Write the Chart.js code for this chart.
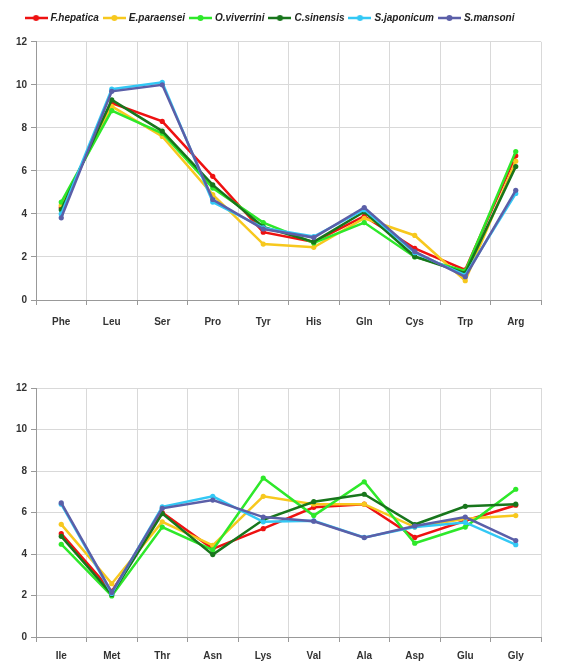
<!DOCTYPE html>
<html>
<head>
<meta charset="utf-8">
<script src="https://cdn.jsdelivr.net/npm/chart.js@4/dist/chart.umd.min.js"></script>
<style>
  body { margin: 0; background: #fff; }
  .box { position: absolute; left: 0; width: 563px; }
  #top { top: 0; height: 340px; }
  #bottom { top: 340px; height: 322px; }
</style>
</head>
<body>
<div class="box" id="top"><canvas id="chart1"></canvas></div>
<div class="box" id="bottom"><canvas id="chart2"></canvas></div>
<script>
// series names and colours
const names = ['F.hepatica', 'E.paraensei', 'O.viverrini', 'C.sinensis', 'S.japonicum', 'S.mansoni'];
const colors = ['#ee1111', '#f7c81e', '#2ee82a', '#18761c', '#33c8f5', '#5b5fa8'];

// top panel
const aa1 = ['Phe', 'Leu', 'Ser', 'Pro', 'Tyr', 'His', 'Gln', 'Cys', 'Trp', 'Arg'];
const fhep1 = [4.3, 9.15, 8.3, 5.75, 3.15, 2.7, 3.9, 2.4, 1.4, 6.7];
const epar1 = [4.4, 9.0, 7.6, 4.9, 2.6, 2.45, 3.8, 3.0, 0.9, 6.45];
const oviv1 = [4.55, 8.8, 7.75, 5.2, 3.6, 2.65, 3.6, 2.0, 1.35, 6.9];
const csin1 = [4.2, 9.3, 7.85, 5.35, 3.4, 2.7, 4.1, 2.02, 1.25, 6.2];
const sjap1 = [4.0, 9.8, 10.12, 4.55, 3.35, 2.95, 4.2, 2.2, 1.15, 4.95];
const sman1 = [3.82, 9.7, 10.0, 4.67, 3.3, 2.9, 4.3, 2.25, 1.08, 5.1];

// bottom panel
const aa2 = ['Ile', 'Met', 'Thr', 'Asn', 'Lys', 'Val', 'Ala', 'Asp', 'Glu', 'Gly'];
const fhep2 = [4.98, 2.2, 6.0, 4.25, 5.22, 6.25, 6.4, 4.8, 5.6, 6.35];
const epar2 = [5.43, 2.57, 5.55, 4.42, 6.78, 6.4, 6.4, 5.3, 5.7, 5.85];
const oviv2 = [4.47, 1.98, 5.3, 4.2, 7.66, 5.85, 7.48, 4.52, 5.3, 7.12];
const csin2 = [4.85, 2.05, 5.95, 3.97, 5.65, 6.52, 6.88, 5.42, 6.3, 6.4];
const sjap2 = [6.4, 2.1, 6.27, 6.78, 5.55, 5.6, 4.8, 5.3, 5.52, 4.45];
const sman2 = [6.46, 2.15, 6.2, 6.6, 5.78, 5.58, 4.79, 5.35, 5.78, 4.65];

const yTicks = [0, 2, 4, 6, 8, 10, 12];

const font = { family: '"Liberation Sans", Arial, sans-serif', size: 10, weight: 'bold' };

// small line+dot marker for the legend
function legendMarker(color) {
  const c = document.createElement('canvas');
  c.width = 23; c.height = 8;
  const g = c.getContext('2d');
  g.strokeStyle = color;
  g.lineWidth = 2.5;
  g.beginPath(); g.moveTo(0, 4); g.lineTo(23, 4); g.stroke();
  g.fillStyle = color;
  g.beginPath(); g.arc(11.5, 4, 3, 0, Math.PI * 2); g.fill();
  return c;
}

function makeDatasets(series) {
  return series.map((vals, i) => ({
    label: names[i],
    data: vals,
    borderColor: colors[i],
    backgroundColor: colors[i],
    borderWidth: 2.5,
    pointRadius: 2.6,
    pointBorderWidth: 0,
    pointHoverRadius: 3,
    tension: 0,
    order: series.length - i
  }));
}

function makeOptions(showLegend, padTop, xHeight, xPad) {
  return {
    responsive: true,
    maintainAspectRatio: false,
    animation: false,
    layout: { padding: { top: padTop, right: 22, left: 0, bottom: 0 } },
    plugins: {
      tooltip: { enabled: false },
      // empty spacer between legend and plot
      subtitle: { display: showLegend, text: '', font: { size: 4 }, padding: { top: 0, bottom: 4 } },
      legend: {
        display: showLegend,
        position: 'top',
        weight: 3000,
        labels: {
          usePointStyle: true,
          pointStyleWidth: 19,
          boxHeight: 8,
          padding: 6,
          color: '#222',
          font: { family: font.family, size: 10, weight: 'bold', style: 'italic' },
          sort: (a, b) => a.datasetIndex - b.datasetIndex,
          generateLabels: function(chart) {
            const items = Chart.defaults.plugins.legend.labels.generateLabels(chart);
            items.forEach(it => { it.pointStyle = legendMarker(colors[it.datasetIndex]); });
            return items;
          }
        }
      }
    },
    scales: {
      x: {
        offset: true,
        afterFit: s => { s.height = xHeight; },
        grid: { offset: true, color: '#d9d9d9', tickLength: 5, tickColor: '#999' },
        border: { color: '#999' },
        ticks: { color: '#333', font: font, padding: xPad, maxRotation: 0 }
      },
      y: {
        min: 0,
        max: 12,
        afterBuildTicks: s => { s.ticks = yTicks.map(v => ({ value: v })); },
        afterFit: s => { s.width = 36; },
        grid: { color: '#d9d9d9', tickLength: 5, tickColor: '#999' },
        border: { color: '#999' },
        ticks: { color: '#333', font: font, padding: 4 }
      }
    }
  };
}

new Chart(document.getElementById('chart1'), {
  type: 'line',
  data: { labels: aa1, datasets: makeDatasets([fhep1, epar1, oviv1, csin1, sjap1, sman1]) },
  options: makeOptions(true, 7, 40, 11)
});

new Chart(document.getElementById('chart2'), {
  type: 'line',
  data: { labels: aa2, datasets: makeDatasets([fhep2, epar2, oviv2, csin2, sjap2, sman2]) },
  options: makeOptions(false, 48, 25, 8)
});
</script>
</body>
</html>
